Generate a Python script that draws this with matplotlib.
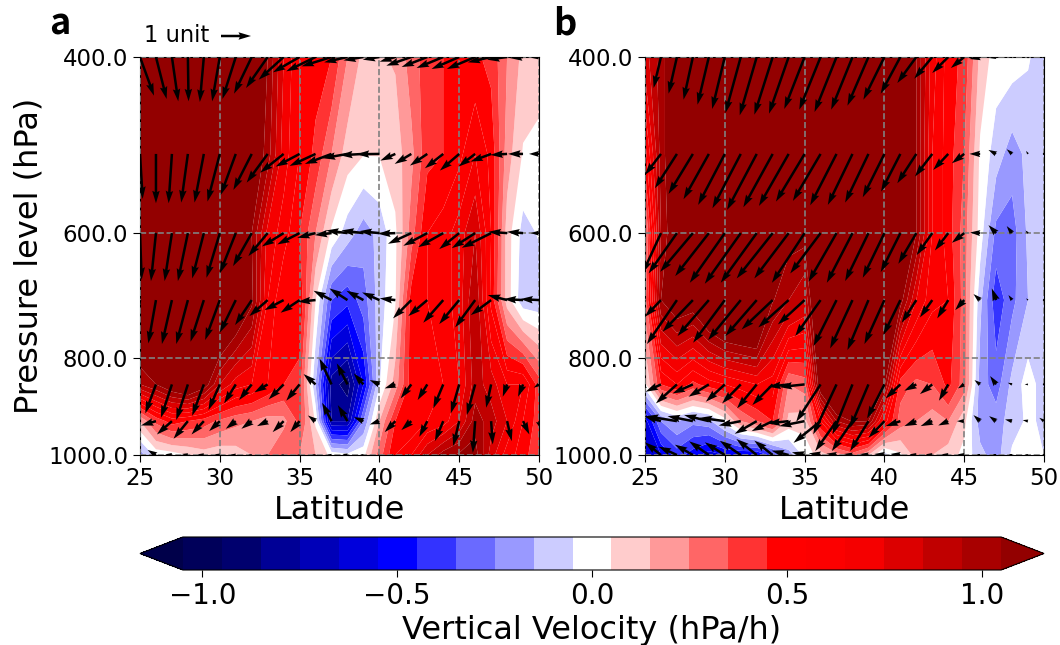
import numpy as np
import matplotlib
matplotlib.use("Agg")
import matplotlib.pyplot as plt
from matplotlib.colors import ListedColormap, BoundaryNorm

lat = np.arange(25, 51)
plev = np.array([400, 500, 600, 700, 850, 925, 1000])

w_a = [
 [1.4,1.4,1.4,1.4,1.4,1.4,1.4,1.3,1.05,.75,.55,.5,.45,.25,.12,.14,.16,.3,.4,.45,.48,.47,.42,.25,.12,.08],
 [1.4,1.4,1.4,1.4,1.4,1.4,1.4,1.2,1.0,.7,.55,.42,.25,.1,.055,.055,.1,.22,.42,.45,.52,.65,.52,.2,.04,.03],
 [1.4,1.4,1.4,1.4,1.4,1.4,1.3,1.05,.72,.6,.45,.25,.03,-.1,-.2,-.12,.03,.3,.55,.6,.7,.85,.55,.1,-.09,-.04],
 [1.4,1.4,1.4,1.4,1.4,1.42,1.28,1.08,.65,.45,.55,.05,-.35,-.42,-.3,-.1,.04,.5,.55,.6,.7,.95,.52,.1,-.12,-.12],
 [.95,1.05,1.18,1.29,1.13,.85,.7,.65,.55,.45,.4,-.15,-.8,-.9,-.55,-.06,.2,.5,.5,.55,.65,.9,.8,.65,.65,.4],
 [.15,.38,.5,.45,.4,.33,.28,.25,.2,.22,.38,.03,-.75,-.75,-.25,.15,.45,.45,.55,.6,.75,1.0,.9,.75,.55,.4],
 [-.2,-.02,0,.05,.1,.08,.1,.15,.25,.35,.25,.15,.02,-.02,.02,.3,.55,.65,.85,1.0,1.07,1.1,.8,.6,.5,.35],
]
w_b = [
 [.8,1.0,1.2,1.2,1.2,1.2,1.2,1.2,1.2,1.2,1.2,1.2,1.2,1.2,1.2,1.2,1.2,1.05,.7,.5,.42,.12,0,0,-.04,-.1],
 [.5,1.0,1.2,1.2,1.2,1.2,1.2,1.2,1.2,1.2,1.2,1.2,1.2,1.2,1.2,1.2,1.2,1.05,.65,.5,.35,.03,-.1,-.2,-.12,-.1],
 [.2,.95,1.2,1.2,1.2,1.2,1.3,1.3,1.2,1.1,1.1,1.2,1.2,1.2,1.2,1.2,1.15,1.05,.65,.5,.3,0,-.28,-.3,-.13,-.1],
 [.3,1.05,1.18,1.15,1.35,1.5,1.53,1.55,1.06,.95,.85,1.4,1.5,1.5,1.5,1.4,1.1,.75,.58,.55,.3,-.12,-.42,-.28,-.15,-.1],
 [.02,.45,.55,.42,.5,.55,.6,.65,.6,.25,.3,1.2,1.5,1.5,1.5,1.07,.4,.32,.35,.48,.3,-.2,-.3,-.12,0,-.1],
 [-.6,-.25,-.15,-.22,-.18,0,.25,.35,.45,.12,.1,.55,.95,1.06,1.05,.6,.3,.25,.2,.25,.08,-.2,-.2,-.1,-.03,-.07],
 [-.65,-.55,-.4,-.5,-.6,-.55,-.55,-.55,-.4,-.2,-.02,.1,.2,.3,.15,-.1,.03,.2,.15,.1,.02,-.12,-.2,-.03,-.02,-.05],
]

u_a = [
 [42,32,19,2,-12,-23,-40,-53,-65,-75,-80,-88,-90,-70,-60,-50,-47,-75,-77,-80,-83,-85,-70,-60,-40,-25],
 [8,0,-10,-20,-28,-37,-45,-55,-63,-70,-72,-78,-80,-74,-70,-68,-45,-50,-52,-55,-58,-50,-62,-50,-45,-30],
 [5,-15,-22,-30,-35,-40,-48,-56,-58,-65,-67,-55,-50,-64,-66,-60,-52,-70,-72,-75,-60,-70,-88,-56,-48,-25],
 [-20,-23,-30,-35,-40,-44,-48,-50,-55,-57,-57,-53,-54,-54,-51,-52,-47,-55,-57,-60,-60,-60,-61,-58,-58,-56],
 [-30,-32,-33,-35,-35,-34,-35,-38,-40,-45,-40,-36,-36,-32,-29,-29,-32,-32,-29,-30,-25,-25,-15,-13,-15,-16],
 [-30,-45,-45,-43,-37,-32,-30,-31,-32,-33,-28,-23,-28,-29,-29,-29,-32,-30,-24,-25,-18,-7,5,14,19,10],
 [-20,-25,-20,-18,-18,-15,-15,-10,-8,-8,-8,-10,-12,-15,-10,-8,-10,-10,-8,-8,-5,-3,3,5,6,5],
]
down_a = [
 [116,126,133,133,135,133,126,110,93,68,46,43,28,16,10,8,14,26,30,33,36,36,16,8,3,2],
 [135,148,148,146,146,143,123,108,86,56,38,36,30,13,4,1,20,30,35,43,50,38,23,3,0,0],
 [140,144,144,144,136,134,121,99,69,40,34,14,6,-8,-8,-6,2,32,38,42,48,45,44,-4,-4,0],
 [130,130,132,132,125,120,98,75,48,30,38,5,-28,-35,-28,-23,-5,55,48,68,72,82,45,-15,-3,-3],
 [90,87,100,107,94,77,57,47,24,45,49,-31,-78,-63,-33,-13,12,42,47,72,87,92,70,37,37,10],
 [10,13,40,53,40,30,23,23,15,33,33,-17,-55,-48,-12,10,33,27,47,60,75,95,70,60,40,30],
 [-5,-15,-2,-3,-2,-2,-1,-1,0,0,0,-1,-1,-3,0,2,30,30,30,35,40,45,40,35,30,25],
]
u_b = [
 [-20,-22,-25,-28,-34,-38,-46,-51,-55,-59,-61,-64,-66,-64,-63,-63,-59,-57,-54,-48,-40,-32,-20,-11,-5,-3],
 [-40,-48,-66,-73,-76,-80,-85,-89,-88,-89,-86,-83,-79,-74,-70,-65,-58,-57,-52,-45,-37,-32,-23,-16,-6,0],
 [-50,-55,-85,-98,-101,-105,-108,-108,-108,-103,-98,-91,-84,-77,-70,-65,-59,-54,-47,-40,-37,-30,-23,-16,-8,0],
 [-40,-48,-90,-91,-94,-95,-98,-94,-93,-91,-80,-76,-69,-67,-63,-60,-51,-44,-37,-33,-27,-20,-13,-11,-6,0],
 [-30,-46,-63,-61,-61,-57,-56,-59,-61,-61,-75,-73,-70,-60,-55,-52,-44,-36,-37,-28,-19,-17,-18,-13,-10,-6],
 [-30,-50,-93,-76,-74,-75,-66,-66,-63,-63,-76,-81,-64,-62,-55,-48,-44,-36,-35,-30,-22,-20,-21,-21,-16,-14],
 [-30,-48,-55,-54,-59,-60,-63,-61,-55,-51,-38,-35,-30,-25,-25,-30,-30,-20,-20,-20,-20,-10,-10,-10,-8,-5],
]
down_b = [
 [80,93,110,128,143,156,168,175,173,170,156,158,165,158,146,128,110,78,65,48,33,6,3,2,0,0],
 [60,63,103,120,136,153,163,168,160,156,143,141,154,153,146,130,113,88,68,48,28,0,-12,-14,-9,0],
 [100,120,121,116,129,149,152,149,136,136,149,121,146,149,144,134,117,92,66,52,29,-2,-24,-21,-8,0],
 [50,50,132,95,108,128,120,108,88,82,73,108,138,145,150,132,105,68,52,55,30,-18,-35,-15,-5,0],
 [20,22,57,27,37,52,57,72,62,7,8,112,150,150,130,102,42,19,29,49,12,-13,-25,-5,0,-3],
 [-10,-15,-15,-15,-18,-10,13,38,30,7,15,65,90,90,90,50,15,15,15,13,0,-18,-15,-5,-3,-10],
 [-30,-38,-25,-31,-41,-38,-43,-48,-43,-13,-8,-5,-4,-3,-3,-3,-3,-2,-2,-2,-2,-3,-3,-3,-2,-2],
]

levels = np.arange(-1.05, 1.06, 0.1)
band_colors = ["#00005a", "#00006e", "#000096", "#0000b8", "#0000dc", "#0000ff",
               "#3333ff", "#6a6aff", "#9999ff", "#ccccff", "#ffffff",
               "#ffcccc", "#ff9999", "#ff6666", "#ff3333", "#ff0000",
               "#fc0000", "#f50000", "#dc0000", "#c00000", "#a80000"]
under_color = "#00004a"
over_color = "#930000"
cbar_ticks = [-1.0, -0.5, 0.0, 0.5, 1.0]
xticks = [25, 30, 35, 40, 45, 50]
yticks = [400, 600, 800, 1000]
ytick_labels = ["400.0", "600.0", "800.0", "1000.0"]

cmap = ListedColormap(band_colors)
cmap.set_under(under_color)
cmap.set_over(over_color)
norm = BoundaryNorm(levels, cmap.N)

W, H = 1060, 645
fig = plt.figure(figsize=(W / 100, H / 100), dpi=100)


def rect(x0, y0, x1, y1):
    return [x0 / W, 1 - y1 / H, (x1 - x0) / W, (y1 - y0) / H]


def panel(box, w, u, down, letter, lx):
    ax = fig.add_axes(rect(*box))
    cf = ax.contourf(lat, plev, np.array(w), levels=levels, cmap=cmap, norm=norm,
                     extend="both", antialiased=True)
    ax.set_yscale("log")
    ax.set_ylim(1000, 400)
    ax.set_xlim(25, 50)
    ax.set_xticks(xticks)
    ax.set_yticks(yticks)
    ax.set_yticklabels(ytick_labels)
    ax.yaxis.set_minor_locator(matplotlib.ticker.NullLocator())
    ax.tick_params(labelsize=16.5, length=5)
    ax.grid(True, color="gray", linestyle="--", linewidth=1.2)
    ax.set_axisbelow(False)
    ax.set_xlabel("Latitude", fontsize=23, labelpad=4)
    X, Y = np.meshgrid(lat, plev)
    q = ax.quiver(X, Y, np.array(u) / 90, -np.array(down) / 90, angles="uv",
                  scale_units="dots", scale=1 / 30, units="dots", width=2.5,
                  pivot="tail", color="black", zorder=5)
    fig.text(lx / W, 1 - 24 / H, letter, fontsize=26, fontweight="bold",
             family="Noto Sans CJK JP", ha="center", va="center")
    return ax, cf, q


ax_a, cf_a, q_a = panel((140, 57, 539, 455), w_a, u_a, down_a, "a", 60)
ax_a.set_ylabel("Pressure level (hPa)", fontsize=23, labelpad=3)
ax_b, cf_b, q_b = panel((645, 57, 1044, 455), w_b, u_b, down_b, "b", 565)

ax_a.quiverkey(q_a, 221 / W, 1 - 36 / H, 1, "1 unit", labelpos="W",
               coordinates="figure", labelsep=0.12,
               fontproperties={"size": 16.3})

cax = fig.add_axes(rect(140, 537, 1044, 570))
cb = fig.colorbar(cf_a, cax=cax, orientation="horizontal", extendfrac=0.0524,
                  ticks=cbar_ticks)
cb.ax.xaxis.set_minor_locator(matplotlib.ticker.NullLocator())
cb.ax.tick_params(labelsize=20, length=5)
cb.set_label("Vertical Velocity (hPa/h)", fontsize=23, labelpad=4)

fig.savefig("out.png", dpi=100)
